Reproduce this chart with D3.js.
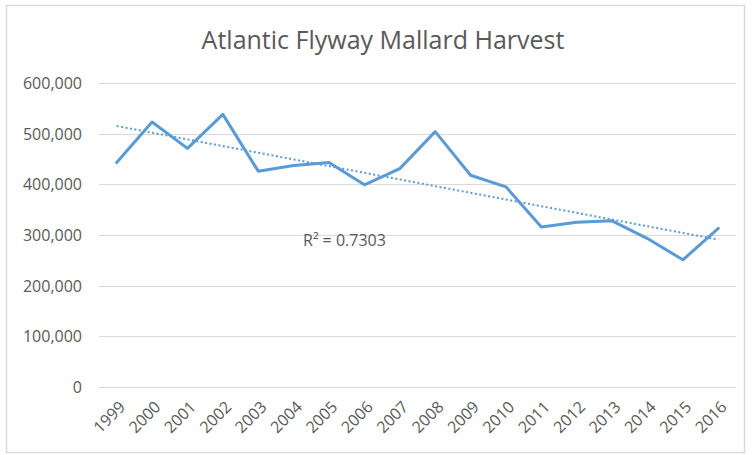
<!DOCTYPE html>
<html><head><meta charset="utf-8">
<script src="https://cdn.jsdelivr.net/npm/d3@7"></script>
<style>
html,body{margin:0;padding:0;background:#ffffff;}
svg{display:block;}
</style></head>
<body>
<svg id="chart" width="752" height="455"></svg>
<script>
const years = ["1999","2000","2001","2002","2003","2004","2005","2006","2007","2008","2009","2010","2011","2012","2013","2014","2015","2016"];
const harvest = [443000,523000,471000,538000,426000,437000,443000,399000,431000,504000,418000,395000,316000,325000,328000,293000,251000,313000];
const yTicks = [0,100000,200000,300000,400000,500000,600000];
const titleText = "Atlantic Flyway Mallard Harvest";
const r2Label = "R\u00B2 = 0.7303";

const svg = d3.select("#chart");
const font = "Open Sans, sans-serif";
// chart area frame
svg.append("rect").attr("x",0).attr("y",0).attr("width",752).attr("height",455).attr("fill","#ffffff");
svg.append("rect").attr("x",6.5).attr("y",5.5).attr("width",738).attr("height",447)
  .attr("fill","#ffffff").attr("stroke","#d9d9d9").attr("stroke-width",1.5);

const x = d3.scalePoint().domain(years).range([99,736]).padding(0.5);
const y = d3.scaleLinear().domain([0,600000]).range([387,83]);

// gridlines
svg.append("g").selectAll("line").data(yTicks).join("line")
  .attr("x1",99).attr("x2",736)
  .attr("y1",d=>Math.round(y(d))+0.5).attr("y2",d=>Math.round(y(d))+0.5)
  .attr("stroke","#d9d9d9").attr("stroke-width",1);

// y axis labels
const yAxis = d3.axisLeft(y).tickValues(yTicks).tickSize(0).tickPadding(0)
  .tickFormat(d3.format(","));
const gy = svg.append("g").attr("transform","translate(82,0)").call(yAxis);
gy.select(".domain").remove();
gy.selectAll("text").attr("font-family",font).attr("font-size",16)
  .attr("fill","#595959").attr("dy","0.35em");

// x axis labels
const xAxis = d3.axisBottom(x).tickSize(0).tickPadding(0);
const gx = svg.append("g").attr("transform","translate(0,387)").call(xAxis);
gx.select(".domain").remove();
gx.selectAll("text")
  .attr("font-family",font).attr("font-size",16).attr("fill","#595959")
  .attr("text-anchor","end").attr("dy",0).attr("y",0)
  .attr("transform","translate(9,21) rotate(-45)");

// trendline (least squares)
const n = harvest.length;
const xs = d3.range(n);
const mx = d3.mean(xs), my = d3.mean(harvest);
const slope = d3.sum(xs.map((xi,i)=>(xi-mx)*(harvest[i]-my))) / d3.sum(xs.map(xi=>(xi-mx)*(xi-mx)));
const icpt = my - slope*mx;
svg.append("line")
  .attr("x1",x(years[0])).attr("y1",y(icpt))
  .attr("x2",x(years[n-1])).attr("y2",y(icpt+slope*(n-1)))
  .attr("stroke","#5b9bd5").attr("stroke-width",2).attr("stroke-dasharray","2,2.5");

// series line
const line = d3.line().x((d,i)=>x(years[i])).y(d=>y(d));
svg.append("path").datum(harvest).attr("d",line)
  .attr("fill","none").attr("stroke","#5b9bd5").attr("stroke-width",3)
  .attr("stroke-linejoin","round").attr("stroke-linecap","round");

// R2 label
svg.append("text").attr("x",303).attr("y",246).text(r2Label)
  .attr("font-family",font).attr("font-size",16).attr("fill","#595959");

// title
svg.append("text").attr("x",383).attr("y",49).attr("text-anchor","middle").text(titleText)
  .attr("font-family",font).attr("font-size",25).attr("fill","#595959");
</script>
</body></html>
